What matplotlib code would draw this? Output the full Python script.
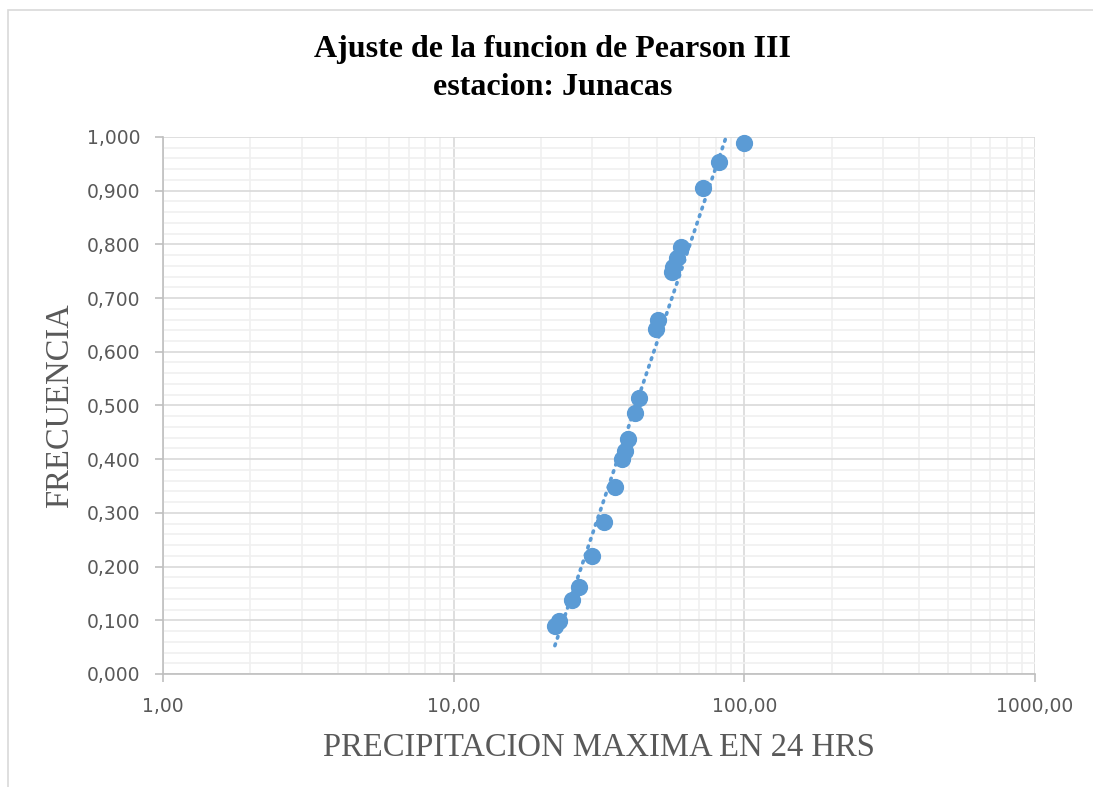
import numpy as np
import matplotlib.pyplot as plt
from matplotlib.ticker import FixedLocator, FuncFormatter, LogLocator, NullFormatter
from matplotlib.patches import Rectangle

# precipitacion maxima en 24 hrs (mm) y frecuencia ajustada
precip = [22.3, 23.0, 25.5, 27.0, 29.9, 32.9, 35.9, 37.9, 38.8, 39.8, 42.1,
          43.4, 49.6, 50.5, 56.4, 57.0, 58.6, 60.6, 71.9, 81.8, 100.0]
frecuencia = [0.089, 0.099, 0.138, 0.162, 0.220, 0.283, 0.348, 0.400, 0.415,
              0.438, 0.486, 0.514, 0.642, 0.659, 0.749, 0.757, 0.775, 0.795,
              0.904, 0.953, 0.989]

x_ticks = [1, 10, 100, 1000]
y_ticks = [0.0, 0.1, 0.2, 0.3, 0.4, 0.5, 0.6, 0.7, 0.8, 0.9, 1.0]

x = np.array(precip)
y = np.array(frecuencia)

# linea de tendencia logaritmica (y = a ln x + b)
a, b = np.polyfit(np.log(x), y, 1)
xt = np.geomspace(x.min(), x.max(), 200)
yt = a * np.log(xt) + b

fig = plt.figure(figsize=(10.93, 7.87), dpi=100)
ax = fig.add_axes([0.149, 0.1436, 0.798, 0.6824])

ax.set_xscale('log')
ax.set_xlim(1, 1000)
ax.set_ylim(0, 1)

ax.plot(xt, yt, linestyle=(0, (0.5, 1.7)), color='#5b9bd5', linewidth=2.6,
        dash_capstyle='round', zorder=3)
ax.scatter(x, y, s=130, color='#5b9bd5', zorder=4, clip_on=False)

ax.xaxis.set_major_locator(FixedLocator(x_ticks))
ax.xaxis.set_minor_locator(LogLocator(base=10, subs=np.arange(2, 10)))
ax.xaxis.set_minor_formatter(NullFormatter())
ax.yaxis.set_major_locator(FixedLocator(y_ticks))
ax.yaxis.set_minor_locator(FixedLocator(np.arange(0, 1.001, 0.02)))

ax.xaxis.set_major_formatter(FuncFormatter(lambda v, p: f"{v:.2f}".replace('.', ',')))
ax.yaxis.set_major_formatter(FuncFormatter(lambda v, p: f"{v:.3f}".replace('.', ',')))

ax.grid(which='major', color='#d9d9d9', linewidth=1.2, zorder=0)
ax.grid(which='minor', color='#f0f0f0', linewidth=1.2, zorder=0)
ax.set_axisbelow(True)

for s in ['top', 'right']:
    ax.spines[s].set_visible(False)
for s in ['left', 'bottom']:
    ax.spines[s].set_color('#bfbfbf')
    ax.spines[s].set_linewidth(1.2)

ax.tick_params(which='major', length=5.8, width=1.2, color='#bfbfbf',
               labelsize=13.5, labelcolor='#595959')
ax.tick_params(axis='y', which='major', pad=10.5)
ax.tick_params(axis='x', which='major', pad=10.5)
ax.tick_params(which='minor', length=0)
for lab in ax.get_xticklabels() + ax.get_yticklabels():
    lab.set_family('DejaVu Sans')

fig.text(0.5055, 0.913, 'Ajuste de la funcion de Pearson III\nestacion: Junacas',
         ha='center', va='center', fontsize=23, fontweight='bold',
         family='Liberation Serif', linespacing=1.45)

ax.set_xlabel('PRECIPITACION MAXIMA EN 24 HRS', fontsize=23.5,
              family='Liberation Serif', color='#595959', labelpad=12)
ax.set_ylabel('FRECUENCIA', fontsize=23.5, family='Liberation Serif',
              color='#595959', labelpad=8)

# marco del area del grafico
top = 1 - 10 / 787
fig.patches.append(Rectangle((8 / 1093, -0.05), 1.2, top + 0.05,
                             transform=fig.transFigure, fill=False,
                             edgecolor='#d9d9d9', linewidth=1.2))

fig.savefig('out.png', dpi=100)
